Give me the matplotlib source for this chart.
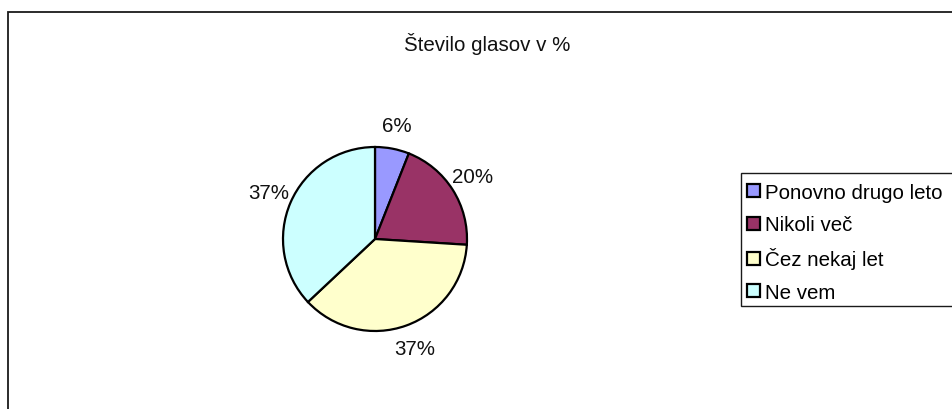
import matplotlib.pyplot as plt
from matplotlib.patches import Rectangle

# data
labels = ['Ponovno drugo leto', 'Nikoli več', 'Čez nekaj let', 'Ne vem']
shares = [6, 20, 37, 37]
colors = ['#9999FF', '#993366', '#FFFFCC', '#CCFFFF']
title = 'Število glasov v %'

plt.rcParams['font.family'] = ['Liberation Sans', 'DejaVu Sans']

W, H = 952, 410
fig = plt.figure(figsize=(W / 100, H / 100), dpi=100)

# chart area frame (right and bottom run off the picture)
fig.patches.append(Rectangle((8 / W, -0.1), 1.2, 1.1 - 13 / H, transform=fig.transFigure,
                             fill=False, edgecolor='#1a1a1a', linewidth=1.3))

# pie axes, centre (375, 240) px, radius 92 px
cx, cy, r = 375, 240, 92
lim = 1.1
half = r * lim
ax = fig.add_axes([(cx - half) / W, (H - cy - half) / H, 2 * half / W, 2 * half / H])
wedges, texts, autotexts = ax.pie(shares, colors=colors, startangle=90, counterclock=False,
                                  autopct='%.0f%%', pctdistance=1.26,
                                  wedgeprops=dict(edgecolor='black', linewidth=1.6),
                                  textprops=dict(fontsize=14.8, color='#111111'))
ax.set_xlim(-lim, lim)
ax.set_ylim(-lim, lim)
ax.set_aspect('equal')
ax.axis('off')

fig.text(487 / W, 1 - 44 / H, title, ha='center', va='center', fontsize=14.8, color='#111111')

# legend box runs past the right edge, as in the original
fig.patches.append(Rectangle((741 / W, 1 - 307 / H), 0.3, 133 / H, transform=fig.transFigure,
                             fill=True, facecolor='white', edgecolor='#1a1a1a', linewidth=1.0))
leg = fig.legend(wedges, labels, loc='upper left', bbox_to_anchor=(741 / W, 1 - 178 / H),
                 fontsize=14.8, frameon=False, handlelength=0.6, handleheight=0.6,
                 handletextpad=0.25, labelspacing=0.64, borderpad=0.3, borderaxespad=0)

fig.savefig('out.png', dpi=100, facecolor='white')
